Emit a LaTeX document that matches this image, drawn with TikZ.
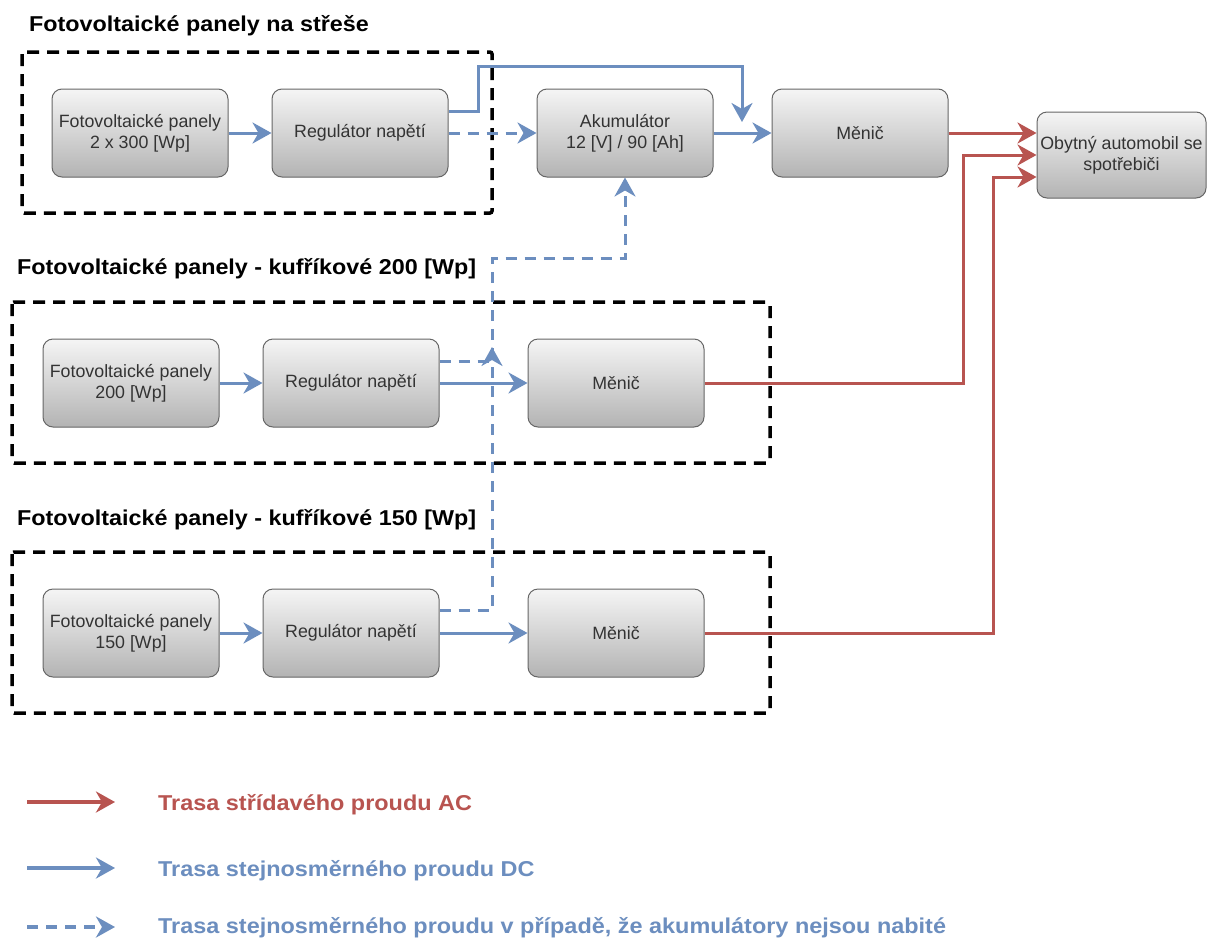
\documentclass[tikz,border=0pt]{standalone}
\usepackage{fontspec}
\setmainfont{Liberation Sans}
\newfontfamily\ttlfont[FakeStretch=1.085]{Liberation Sans}
\newfontfamily\lgdfont[FakeStretch=1.09]{Liberation Sans}
\usetikzlibrary{arrows.meta,calc,shadings}
\definecolor{dcblue}{HTML}{6C8EBF}
\definecolor{acred}{HTML}{B85450}
\definecolor{boxline}{HTML}{666666}
\definecolor{boxtop}{HTML}{F5F5F5}
\definecolor{boxbot}{HTML}{B3B3B3}
\definecolor{boxtext}{HTML}{333333}
\begin{document}
\begin{tikzpicture}[x=1pt,y=-1pt,
  blk/.style={draw=boxline,line width=1pt,rounded corners=10pt,top color=boxtop,bottom color=boxbot,minimum width=176pt,minimum height=88pt,align=center,text=boxtext,font=\fontsize{17.8}{21}\selectfont,inner sep=1pt},
  frame/.style={draw=black,line width=3.5pt,dash pattern=on 12pt off 8pt,rounded corners=2pt},
  tip/.style={-{Stealth[length=19pt,width=21pt,inset=6pt]}},
  dc/.style={draw=dcblue,line width=3pt,tip},
  dcd/.style={dc,dash pattern=on 11pt off 8pt},
  ac/.style={draw=acred,line width=3pt,tip},
  ttl/.style={anchor=base west,font=\ttlfont\bfseries\fontsize{21.5}{24}\selectfont,inner sep=0pt},
  lgd/.style={anchor=base west,font=\lgdfont\bfseries\fontsize{21.5}{24}\selectfont,inner sep=0pt}
]
\useasboundingbox[fill=white] (0,0) rectangle (1207,940);

% titles
\node[ttl] (t1) at (29,31) {Fotovoltaické panely na střeše};
\node[ttl] (t2) at (17,274) {Fotovoltaické panely - kufříkové 200 [Wp]};
\node[ttl] (t3) at (17,525) {Fotovoltaické panely - kufříkové 150 [Wp]};

% frames
\draw[frame] (22,52) rectangle (492,213);
\draw[frame] (12,302) rectangle (770,463);
\draw[frame] (12,552) rectangle (770,713);

% boxes
\node[blk] (p1) at (140,133) {Fotovoltaické panely\\2 x 300 [Wp]};
\node[blk] (r1) at (360,133) {Regulátor napětí};
\node[blk] (ak) at (625,133) {Akumulátor\\12 [V] / 90 [Ah]};
\node[blk] (m1) at (860,133) {Měnič};
\node[blk,minimum width=169pt,minimum height=86pt] (ob) at (1121.5,155) {Obytný automobil se\\spotřebiči};

\node[blk] (p2) at (131,383) {Fotovoltaické panely\\200 [Wp]};
\node[blk] (r2) at (351,383) {Regulátor napětí};
\node[blk] (m2) at (616,383) {Měnič};

\node[blk] (p3) at (131,633) {Fotovoltaické panely\\150 [Wp]};
\node[blk] (r3) at (351,633) {Regulátor napětí};
\node[blk] (m3) at (616,633) {Měnič};

% top row
\draw[dc] (p1) -- (r1);
\coordinate (j1) at (742,122);
\draw[dc] ([yshift=22pt]r1.east) -- (478,111) -- (478,66) -- (742,66) -- (j1);
\draw[dcd] (r1) -- (ak);
\draw[dc] (ak) -- (m1);
\draw[ac] (m1.east) -- ([yshift=22pt]ob.west);

% second row
\draw[dc] (p2) -- (r2);
\draw[dc] (r2) -- (m2);
\coordinate (j2) at (492,347);
\draw[dcd] ([yshift=22pt]r2.east) -- (492,361) -- (j2);
\draw[ac] (m2.east) -- (963,383) |- (ob.west);

% third row
\draw[dc] (p3) -- (r3);
\draw[dc] (r3) -- (m3);
\draw[dcd] ([yshift=23pt]r3.east) -- (492,610) -- (492,258) -| (ak.south);
\draw[ac] (m3.east) -- (993,633) |- ([yshift=-22pt]ob.west);

% legend
\coordinate (la1) at (27,802); \coordinate (lb1) at (115,802);
\coordinate (la2) at (27,868); \coordinate (lb2) at (115,868);
\coordinate (la3) at (27,927); \coordinate (lb3) at (115,927);
\draw[ac,line width=3.5pt] (la1) -- (lb1);
\draw[dc,line width=3.5pt] (la2) -- (lb2);
\draw[dcd,line width=3.5pt] (la3) -- (lb3);
\node[lgd,text=acred] (l1) at (158,810) {Trasa střídavého proudu AC};
\node[lgd,text=dcblue] (l2) at (158,876) {Trasa stejnosměrného proudu DC};
\node[lgd,text=dcblue] (l3) at (158,933) {Trasa stejnosměrného proudu v případě, že akumulátory nejsou nabité};
\end{tikzpicture}
\end{document}
